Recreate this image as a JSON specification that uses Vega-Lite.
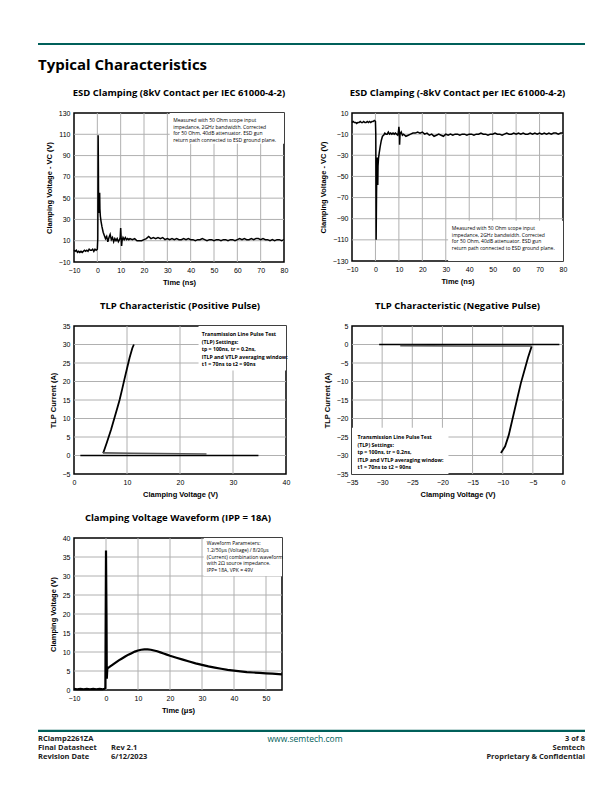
{
  "$schema": "https://vega.github.io/schema/vega-lite/v6.json",
  "background": "white",
  "padding": {"left": 36, "top": 42, "right": 5, "bottom": 5},
  "config": {
    "view": {"stroke": "black", "strokeWidth": 1.5},
    "axis": {"labelFont": "Liberation Sans", "labelFontSize": 7, "labelColor": "#000", "titleFont": "Liberation Sans", "titleFontSize": 7.5, "titleFontWeight": "bold", "titleColor": "#000", "tickSize": 0, "domain": false, "grid": false, "labelPadding": 4, "titlePadding": 5, "labelOverlap": false, "labelFlush": false},
    "title": {"font": "Open Sans", "fontSize": 9.5, "fontWeight": "bold", "color": "#000", "offset": 12},
    "rule": {"color": "#b0b0b0", "strokeWidth": 1},
    "line": {"color": "black"}
  },
  "datasets": {
    "esd_pos": [
      {"t":-10,"v":1},{"t":-9.5,"v":0},{"t":-9,"v":1},{"t":-8.5,"v":-1},{"t":-8,"v":0},{"t":-7.5,"v":-1},{"t":-7,"v":0},{"t":-6.5,"v":-1},{"t":-6,"v":0},{"t":-5.5,"v":1},{"t":-5,"v":0},{"t":-4.5,"v":1},{"t":-4,"v":0},{"t":-3.5,"v":2},{"t":-3,"v":1},{"t":-2.5,"v":1},{"t":-2,"v":2},{"t":-1.5,"v":0},{"t":-1,"v":2},{"t":-0.5,"v":1},{"t":0,"v":2},
      {"t":0.2,"v":12},{"t":0.35,"v":109},{"t":0.45,"v":80},{"t":0.55,"v":40},{"t":0.7,"v":36},{"t":0.85,"v":50},{"t":1.0,"v":55},{"t":1.1,"v":40},{"t":1.3,"v":33},{"t":1.6,"v":28},{"t":2,"v":23},{"t":2.5,"v":18},{"t":3,"v":15},{"t":3.5,"v":12},{"t":4,"v":14},{"t":4.5,"v":9},{"t":5,"v":13},{"t":5.5,"v":16},{"t":6,"v":11},{"t":6.5,"v":13},{"t":7,"v":9},{"t":7.5,"v":12},{"t":8,"v":10},{"t":8.5,"v":12},{"t":9,"v":9},{"t":9.5,"v":11},{"t":9.8,"v":13},{"t":10,"v":22},{"t":10.2,"v":13},{"t":10.4,"v":5},{"t":10.6,"v":10},{"t":11,"v":13},{"t":11.5,"v":11},{"t":12,"v":13},{"t":12.5,"v":11},{"t":13,"v":12},{"t":13.5,"v":11},{"t":14,"v":12},{"t":15,"v":11},{"t":16,"v":12},{"t":17,"v":10},{"t":18,"v":10},{"t":19,"v":10},{"t":20,"v":11},{"t":21,"v":12},{"t":22,"v":14},{"t":23,"v":12},{"t":24,"v":13},{"t":25,"v":12},{"t":26,"v":13},{"t":27,"v":12},{"t":28,"v":13},{"t":29,"v":11},{"t":30,"v":12},{"t":31,"v":11},{"t":32,"v":12},{"t":33,"v":11},{"t":34,"v":12},{"t":35,"v":11},{"t":36,"v":11},{"t":37,"v":12},{"t":38,"v":11},{"t":39,"v":12},{"t":40,"v":11},{"t":41,"v":11},{"t":42,"v":10},{"t":43,"v":11},{"t":44,"v":11},{"t":45,"v":12},{"t":46,"v":11},{"t":47,"v":10},{"t":48,"v":11},{"t":49,"v":11},{"t":50,"v":10},{"t":51,"v":11},{"t":52,"v":11},{"t":53,"v":10},{"t":54,"v":11},{"t":55,"v":11},{"t":56,"v":10},{"t":57,"v":11},{"t":58,"v":11},{"t":59,"v":10},{"t":60,"v":11},{"t":61,"v":12},{"t":62,"v":11},{"t":63,"v":12},{"t":64,"v":11},{"t":65,"v":11},{"t":66,"v":12},{"t":67,"v":11},{"t":68,"v":12},{"t":69,"v":12},{"t":70,"v":11},{"t":71,"v":12},{"t":72,"v":11},{"t":73,"v":11},{"t":74,"v":10},{"t":75,"v":11},{"t":76,"v":10},{"t":77,"v":11},{"t":78,"v":11},{"t":79,"v":10},{"t":80,"v":11}
    ],
    "esd_neg": [
      {"t":-10,"v":1},{"t":-9.5,"v":2},{"t":-9,"v":1},{"t":-8.5,"v":1},{"t":-8,"v":0},{"t":-7.5,"v":1},{"t":-7,"v":1},{"t":-6.5,"v":2},{"t":-6,"v":1},{"t":-5.5,"v":1},{"t":-5,"v":2},{"t":-4.5,"v":1},{"t":-4,"v":1},{"t":-3.5,"v":2},{"t":-3,"v":1},{"t":-2.5,"v":2},{"t":-2,"v":1},{"t":-1.5,"v":2},{"t":-1,"v":2},{"t":-0.5,"v":3},{"t":0,"v":2},
      {"t":0.15,"v":-10},{"t":0.3,"v":-110},{"t":0.45,"v":-70},{"t":0.6,"v":-40},{"t":0.75,"v":-32},{"t":0.9,"v":-45},{"t":1.0,"v":-58},{"t":1.1,"v":-40},{"t":1.3,"v":-33},{"t":1.6,"v":-28},{"t":2,"v":-22},{"t":2.5,"v":-16},{"t":3,"v":-12},{"t":3.5,"v":-11},{"t":4,"v":-9},{"t":4.5,"v":-10},{"t":5,"v":-10},{"t":5.5,"v":-8},{"t":6,"v":-10},{"t":6.5,"v":-9},{"t":7,"v":-10},{"t":7.5,"v":-9},{"t":8,"v":-10},{"t":8.5,"v":-9},{"t":9,"v":-10},{"t":9.5,"v":-11},{"t":9.8,"v":-8},{"t":10,"v":-3},{"t":10.2,"v":-8},{"t":10.3,"v":-20},{"t":10.5,"v":-10},{"t":11,"v":-8},{"t":11.5,"v":-11},{"t":12,"v":-10},{"t":13,"v":-12},{"t":14,"v":-11},{"t":15,"v":-10},{"t":16,"v":-9},{"t":17,"v":-9},{"t":18,"v":-8},{"t":19,"v":-9},{"t":20,"v":-8},{"t":21,"v":-10},{"t":22,"v":-9},{"t":23,"v":-11},{"t":24,"v":-10},{"t":25,"v":-12},{"t":26,"v":-11},{"t":27,"v":-10},{"t":28,"v":-11},{"t":29,"v":-12},{"t":30,"v":-10},{"t":31,"v":-11},{"t":32,"v":-10},{"t":33,"v":-11},{"t":34,"v":-10},{"t":35,"v":-10},{"t":36,"v":-11},{"t":37,"v":-10},{"t":38,"v":-10},{"t":39,"v":-11},{"t":40,"v":-10},{"t":41,"v":-10},{"t":42,"v":-11},{"t":43,"v":-10},{"t":44,"v":-10},{"t":45,"v":-9},{"t":46,"v":-10},{"t":47,"v":-10},{"t":48,"v":-11},{"t":49,"v":-10},{"t":50,"v":-10},{"t":51,"v":-9},{"t":52,"v":-10},{"t":53,"v":-10},{"t":54,"v":-11},{"t":55,"v":-10},{"t":56,"v":-9},{"t":57,"v":-10},{"t":58,"v":-10},{"t":59,"v":-9},{"t":60,"v":-10},{"t":61,"v":-9},{"t":62,"v":-10},{"t":63,"v":-9},{"t":64,"v":-10},{"t":65,"v":-10},{"t":66,"v":-9},{"t":67,"v":-10},{"t":68,"v":-9},{"t":69,"v":-10},{"t":70,"v":-9},{"t":71,"v":-10},{"t":72,"v":-9},{"t":73,"v":-10},{"t":74,"v":-9},{"t":75,"v":-10},{"t":76,"v":-9},{"t":77,"v":-9},{"t":78,"v":-10},{"t":79,"v":-9},{"t":80,"v":-9}
    ],
    "tlp_pos": [
      {"s":"main","v":5.5,"i":0.6},{"s":"main","v":6.2,"i":3.5},{"s":"main","v":7,"i":7},{"s":"main","v":7.6,"i":10},{"s":"main","v":8.2,"i":13},{"s":"main","v":8.6,"i":15},{"s":"main","v":9.1,"i":18},{"s":"main","v":9.5,"i":20.5},{"s":"main","v":10,"i":23.5},{"s":"main","v":10.5,"i":26.5},{"s":"main","v":11,"i":29},{"s":"main","v":11.3,"i":30},
      {"s":"base","v":1.2,"i":0},{"s":"base","v":34.8,"i":0},
      {"s":"gray","v":5.5,"i":0.7},{"s":"gray","v":11,"i":0.6},{"s":"gray","v":25,"i":0.4}
    ],
    "tlp_neg": [
      {"s":"main","v":-5.2,"i":-0.5},{"s":"main","v":-5.8,"i":-3.5},{"s":"main","v":-6.4,"i":-7},{"s":"main","v":-7,"i":-10.5},{"s":"main","v":-7.5,"i":-14},{"s":"main","v":-8,"i":-17.5},{"s":"main","v":-8.5,"i":-21},{"s":"main","v":-9,"i":-24.5},{"s":"main","v":-9.6,"i":-27.5},{"s":"main","v":-10.3,"i":-29.3},
      {"s":"base","v":-30.5,"i":0},{"s":"base","v":-0.6,"i":0},
      {"s":"gray","v":-27,"i":-0.3},{"s":"gray","v":-17,"i":-0.4},{"s":"gray","v":-5.2,"i":-0.4}
    ],
    "surge": [
      {"t":-10,"v":0.3},{"t":-9,"v":0.2},{"t":-8,"v":0.3},{"t":-7,"v":0.2},{"t":-6,"v":0.3},{"t":-5,"v":0.2},{"t":-4,"v":0.3},{"t":-3,"v":0.2},{"t":-2,"v":0.3},{"t":-1,"v":0.2},{"t":-0.5,"v":0.3},{"t":-0.2,"v":0.5},{"t":0,"v":36.7},{"t":0.15,"v":20},{"t":0.25,"v":3},{"t":0.4,"v":5.5},{"t":0.6,"v":5.8},{"t":1,"v":6},{"t":2,"v":6.6},{"t":3,"v":7.2},{"t":4,"v":7.8},{"t":5,"v":8.3},{"t":6,"v":8.8},{"t":7,"v":9.3},{"t":8,"v":9.7},{"t":9,"v":10.1},{"t":10,"v":10.4},{"t":11,"v":10.6},{"t":12,"v":10.7},{"t":13,"v":10.7},{"t":14,"v":10.6},{"t":15,"v":10.4},{"t":16,"v":10.2},{"t":17,"v":9.9},{"t":18,"v":9.6},{"t":19,"v":9.3},{"t":20,"v":9.0},{"t":22,"v":8.5},{"t":24,"v":8.0},{"t":26,"v":7.5},{"t":28,"v":7.0},{"t":30,"v":6.6},{"t":32,"v":6.2},{"t":34,"v":5.9},{"t":36,"v":5.6},{"t":38,"v":5.3},{"t":40,"v":5.1},{"t":42,"v":4.9},{"t":44,"v":4.7},{"t":46,"v":4.6},{"t":48,"v":4.5},{"t":50,"v":4.4},{"t":52,"v":4.3},{"t":55,"v":4.1}
    ],
    "footer": [
      {"col":0,"line":1,"text":"RClamp2261ZA","pos":"left"},
      {"col":0,"line":2,"text":"Final Datasheet","pos":"left"},
      {"col":0,"line":3,"text":"Revision Date","pos":"left"},
      {"col":1,"line":2,"text":"Rev 2.1","pos":"left"},
      {"col":1,"line":3,"text":"6/12/2023","pos":"left"},
      {"col":3,"line":1,"text":"3 of 8","pos":"right"},
      {"col":3,"line":2,"text":"Semtech","pos":"right"},
      {"col":3,"line":3,"text":"Proprietary & Confidential","pos":"right"}
    ]
  },
  "spacing": 12,
  "vconcat": [
    {
      "width": 500, "height": 30,
      "view": {"stroke": null},
      "data": {"values": [{"a": 0, "b": 1}]},
      "layer": [
        {"mark": {"type": "rule", "color": "#00605a", "strokeWidth": 2.2},
         "encoding": {"x": {"field": "a", "type": "quantitative", "scale": {"domain": [0, 1], "range": [-36, 511]}, "axis": null},
                      "x2": {"field": "b"},
                      "y": {"datum": 0, "type": "quantitative", "scale": {"domain": [0, 1], "range": [0, 30]}, "axis": null}}},
        {"mark": {"type": "text", "text": "Typical Characteristics", "font": "Open Sans", "fontSize": 15, "fontWeight": "bold", "align": "left", "baseline": "alphabetic", "color": "#000"},
         "encoding": {"x": {"datum": 0, "type": "quantitative"}, "y": {"datum": 0.85, "type": "quantitative"}}}
      ]
    },
    {
      "columns": 2,
      "spacing": {"row": 12, "column": 27},
      "concat": [
        {
          "width": 210, "height": 149,
          "title": "ESD Clamping (8kV Contact per IEC 61000-4-2)",
          "encoding": {
            "x": {"type": "quantitative", "scale": {"domain": [-10, 80], "nice": false}, "axis": {"values": [-10,0,10,20,30,40,50,60,70,80], "title": "Time (ns)", "labelOverlap": false}},
            "y": {"type": "quantitative", "scale": {"domain": [-10, 130], "nice": false}, "axis": {"values": [-10,10,30,50,70,90,110,130], "title": "Clamping Voltage - VC (V)", "labelOverlap": false}}
          },
          "layer": [
            {"data": {"values": [{"g":0},{"g":10},{"g":20},{"g":30},{"g":40},{"g":50},{"g":60},{"g":70}]},
             "mark": {"type": "rule"}, "encoding": {"x": {"field": "g"}, "y": {"datum": -10}, "y2": {"datum": 130}}},
            {"data": {"values": [{"g":10},{"g":30},{"g":50},{"g":70},{"g":90},{"g":110}]},
             "mark": {"type": "rule"}, "encoding": {"y": {"field": "g"}, "x": {"datum": -10}, "x2": {"datum": 80}}},
            {"data": {"values": [{}]},
             "mark": {"type": "rect", "fill": "white", "strokeWidth": 0}, "encoding": {"x": {"datum": 31}, "x2": {"datum": 80}, "y": {"datum": 101}, "y2": {"datum": 130}}},
            {"data": {"name": "esd_pos"},
             "mark": {"type": "line", "strokeWidth": 1.5, "color": "black"},
             "encoding": {"x": {"field": "t"}, "y": {"field": "v"}}},
            {"data": {"values": [{}]},
             "mark": {"type": "text", "text": ["Measured with 50 Ohm scope input", "impedance, 2GHz bandwidth. Corrected", "for 50 Ohm, 40dB attenuator. ESD gun", "return path connected to ESD ground plane."], "font": "Open Sans", "fontSize": 5, "lineHeight": 6.5, "align": "left", "baseline": "middle", "color": "#000"},
             "encoding": {"x": {"datum": 32.5}, "y": {"datum": 123.4}}}
          ]
        },
        {
          "width": 211, "height": 148,
          "title": "ESD Clamping (-8kV Contact per IEC 61000-4-2)",
          "encoding": {
            "x": {"type": "quantitative", "scale": {"domain": [-10, 80], "nice": false}, "axis": {"values": [-10,0,10,20,30,40,50,60,70,80], "title": "Time (ns)", "labelOverlap": false}},
            "y": {"type": "quantitative", "scale": {"domain": [-130, 10], "nice": false}, "axis": {"values": [10,-10,-30,-50,-70,-90,-110,-130], "title": "Clamping Voltage - VC (V)", "labelOverlap": false}}
          },
          "layer": [
            {"data": {"values": [{"g":0},{"g":10},{"g":20},{"g":30},{"g":40},{"g":50},{"g":60},{"g":70}]},
             "mark": {"type": "rule"}, "encoding": {"x": {"field": "g"}, "y": {"datum": -130}, "y2": {"datum": 10}}},
            {"data": {"values": [{"g":-10},{"g":-30},{"g":-50},{"g":-70},{"g":-90},{"g":-110}]},
             "mark": {"type": "rule"}, "encoding": {"y": {"field": "g"}, "x": {"datum": -10}, "x2": {"datum": 80}}},
            {"data": {"values": [{}]},
             "mark": {"type": "rect", "fill": "white", "strokeWidth": 0}, "encoding": {"x": {"datum": 31}, "x2": {"datum": 80}, "y": {"datum": -130}, "y2": {"datum": -92}}},
            {"data": {"name": "esd_neg"},
             "mark": {"type": "line", "strokeWidth": 1.5, "color": "black"},
             "encoding": {"x": {"field": "t"}, "y": {"field": "v"}}},
            {"data": {"values": [{}]},
             "mark": {"type": "text", "text": ["Measured with 50 Ohm scope input", "impedance, 2GHz bandwidth. Corrected", "for 50 Ohm, 40dB attenuator. ESD gun", "return path connected to ESD ground plane."], "font": "Open Sans", "fontSize": 5, "lineHeight": 6.5, "align": "left", "baseline": "middle", "color": "#000"},
             "encoding": {"x": {"datum": 32.6}, "y": {"datum": -98.8}}}
          ]
        },
        {
          "width": 212, "height": 148,
          "title": "TLP Characteristic (Positive Pulse)",
          "encoding": {
            "x": {"type": "quantitative", "scale": {"domain": [0, 40], "nice": false}, "axis": {"values": [0,10,20,30,40], "title": "Clamping Voltage (V)", "labelOverlap": false}},
            "y": {"type": "quantitative", "scale": {"domain": [-5, 35], "nice": false}, "axis": {"values": [-5,0,5,10,15,20,25,30,35], "title": "TLP Current (A)", "labelOverlap": false}}
          },
          "layer": [
            {"data": {"values": [{"g":10},{"g":20},{"g":30}]},
             "mark": {"type": "rule"}, "encoding": {"x": {"field": "g"}, "y": {"datum": -5}, "y2": {"datum": 35}}},
            {"data": {"values": [{"g":0},{"g":5},{"g":10},{"g":15},{"g":20},{"g":25},{"g":30}]},
             "mark": {"type": "rule"}, "encoding": {"y": {"field": "g"}, "x": {"datum": 0}, "x2": {"datum": 40}}},
            {"data": {"values": [{}]},
             "mark": {"type": "rect", "fill": "white", "strokeWidth": 0}, "encoding": {"x": {"datum": 23.5}, "x2": {"datum": 40}, "y": {"datum": 23}, "y2": {"datum": 35}}},
            {"data": {"name": "tlp_pos"},
             "mark": {"type": "line"},
             "encoding": {
               "x": {"field": "v"}, "y": {"field": "i"},
               "color": {"field": "s", "type": "nominal", "scale": {"domain": ["main", "base", "gray"], "range": ["#000", "#000", "#555"]}, "legend": null},
               "strokeWidth": {"field": "s", "type": "nominal", "scale": {"domain": ["main", "base", "gray"], "range": [1.8, 1.6, 0.9]}, "legend": null}}},
            {"data": {"values": [{}]},
             "mark": {"type": "text", "text": ["Transmission Line Pulse Test", "(TLP) Settings:", "tp = 100ns, tr = 0.2ns,", "ITLP and VTLP averaging window:", "t1 = 70ns to t2 = 90ns"], "font": "Open Sans", "fontWeight": "bold", "fontSize": 5.2, "lineHeight": 7.5, "align": "left", "baseline": "middle", "color": "#000"},
             "encoding": {"x": {"datum": 24.1}, "y": {"datum": 32.8}}}
          ]
        },
        {
          "width": 211, "height": 148,
          "title": "TLP Characteristic (Negative Pulse)",
          "encoding": {
            "x": {"type": "quantitative", "scale": {"domain": [-35, 0], "nice": false}, "axis": {"values": [-35,-30,-25,-20,-15,-10,-5,0], "title": "Clamping Voltage (V)", "labelOverlap": false}},
            "y": {"type": "quantitative", "scale": {"domain": [-35, 5], "nice": false}, "axis": {"values": [-35,-30,-25,-20,-15,-10,-5,0,5], "title": "TLP Current (A)", "labelOverlap": false}}
          },
          "layer": [
            {"data": {"values": [{"g":-30},{"g":-25},{"g":-20},{"g":-15},{"g":-10},{"g":-5}]},
             "mark": {"type": "rule"}, "encoding": {"x": {"field": "g"}, "y": {"datum": -35}, "y2": {"datum": 5}}},
            {"data": {"values": [{"g":-30},{"g":-25},{"g":-20},{"g":-15},{"g":-10},{"g":-5},{"g":0}]},
             "mark": {"type": "rule"}, "encoding": {"y": {"field": "g"}, "x": {"datum": -35}, "x2": {"datum": 0}}},
            {"data": {"values": [{}]},
             "mark": {"type": "rect", "fill": "white", "strokeWidth": 0}, "encoding": {"x": {"datum": -35}, "x2": {"datum": -19}, "y": {"datum": -35}, "y2": {"datum": -22.5}}},
            {"data": {"name": "tlp_neg"},
             "mark": {"type": "line"},
             "encoding": {
               "x": {"field": "v"}, "y": {"field": "i"},
               "color": {"field": "s", "type": "nominal", "scale": {"domain": ["main", "base", "gray"], "range": ["#000", "#000", "#555"]}, "legend": null},
               "strokeWidth": {"field": "s", "type": "nominal", "scale": {"domain": ["main", "base", "gray"], "range": [1.8, 1.6, 0.9]}, "legend": null}}},
            {"data": {"values": [{}]},
             "mark": {"type": "text", "text": ["Transmission Line Pulse Test", "(TLP) Settings:", "tp = 100ns, tr = 0.2ns,", "ITLP and VTLP averaging window:", "t1 = 70ns to t2 = 90ns"], "font": "Open Sans", "fontWeight": "bold", "fontSize": 5.2, "lineHeight": 7.5, "align": "left", "baseline": "middle", "color": "#000"},
             "encoding": {"x": {"datum": -34.1}, "y": {"datum": -25}}}
          ]
        },
        {
          "width": 208, "height": 152,
          "title": "Clamping Voltage Waveform (IPP = 18A)",
          "encoding": {
            "x": {"type": "quantitative", "scale": {"domain": [-10, 55], "nice": false}, "axis": {"values": [-10,0,10,20,30,40,50], "title": "Time (μs)", "labelOverlap": false}},
            "y": {"type": "quantitative", "scale": {"domain": [0, 40], "nice": false}, "axis": {"values": [0,5,10,15,20,25,30,35,40], "title": "Clamping Voltage (V)", "labelOverlap": false}}
          },
          "layer": [
            {"data": {"values": [{"g":0},{"g":10},{"g":20},{"g":30},{"g":40},{"g":50}]},
             "mark": {"type": "rule"}, "encoding": {"x": {"field": "g"}, "y": {"datum": 0}, "y2": {"datum": 40}}},
            {"data": {"values": [{"g":5},{"g":10},{"g":15},{"g":20},{"g":25},{"g":30},{"g":35}]},
             "mark": {"type": "rule"}, "encoding": {"y": {"field": "g"}, "x": {"datum": -10}, "x2": {"datum": 55}}},
            {"data": {"values": [{}]},
             "mark": {"type": "rect", "fill": "white", "strokeWidth": 0}, "encoding": {"x": {"datum": 30.5}, "x2": {"datum": 55}, "y": {"datum": 30}, "y2": {"datum": 40}}},
            {"data": {"name": "surge"},
             "mark": {"type": "line", "strokeWidth": 2.2, "color": "black"},
             "encoding": {"x": {"field": "t"}, "y": {"field": "v"}}},
            {"data": {"values": [{}]},
             "mark": {"type": "text", "text": ["Waveform Parameters:", "1.2/50μs (Voltage) / 8/20μs", "(Current) combination waveform", "with 2Ω source impedance.", "IPP= 18A, VPK = 49V"], "font": "Open Sans", "fontSize": 5, "lineHeight": 6.8, "align": "left", "baseline": "middle", "color": "#000"},
             "encoding": {"x": {"datum": 31.5}, "y": {"datum": 38.7}}}
          ]
        }
      ]
    },
    {
      "width": 500, "height": 40,
      "view": {"stroke": null},
      "layer": [
        {"data": {"values": [{"a": 0, "b": 3, "line": 0.1}]},
         "mark": {"type": "rule", "color": "#00605a", "strokeWidth": 2.2},
         "encoding": {"x": {"field": "a", "type": "quantitative", "scale": {"domain": [0, 1, 2, 3], "range": [-36, 37, 231, 511]}, "axis": null},
                      "x2": {"field": "b"},
                      "y": {"field": "line", "type": "quantitative", "scale": {"domain": [0, 4], "range": [3, 39]}, "axis": null}}},
        {"data": {"name": "footer"},
         "transform": [{"filter": "datum.pos === 'left'"}],
         "mark": {"type": "text", "font": "Open Sans", "fontSize": 7.5, "fontWeight": "bold", "align": "left", "baseline": "middle", "color": "#222"},
         "encoding": {"x": {"field": "col", "type": "quantitative"}, "y": {"field": "line", "type": "quantitative"}, "text": {"field": "text"}}},
        {"data": {"name": "footer"},
         "transform": [{"filter": "datum.pos === 'right'"}],
         "mark": {"type": "text", "font": "Open Sans", "fontSize": 7.5, "fontWeight": "bold", "align": "right", "baseline": "middle", "color": "#222"},
         "encoding": {"x": {"field": "col", "type": "quantitative"}, "y": {"field": "line", "type": "quantitative"}, "text": {"field": "text"}}},
        {"data": {"values": [{"col": 2, "line": 1, "text": "www.semtech.com"}]},
         "mark": {"type": "text", "font": "Open Sans", "fontSize": 8.5, "align": "center", "baseline": "middle", "color": "#00605a"},
         "encoding": {"x": {"field": "col", "type": "quantitative"}, "y": {"field": "line", "type": "quantitative"}, "text": {"field": "text"}}}
      ]
    }
  ]
}
